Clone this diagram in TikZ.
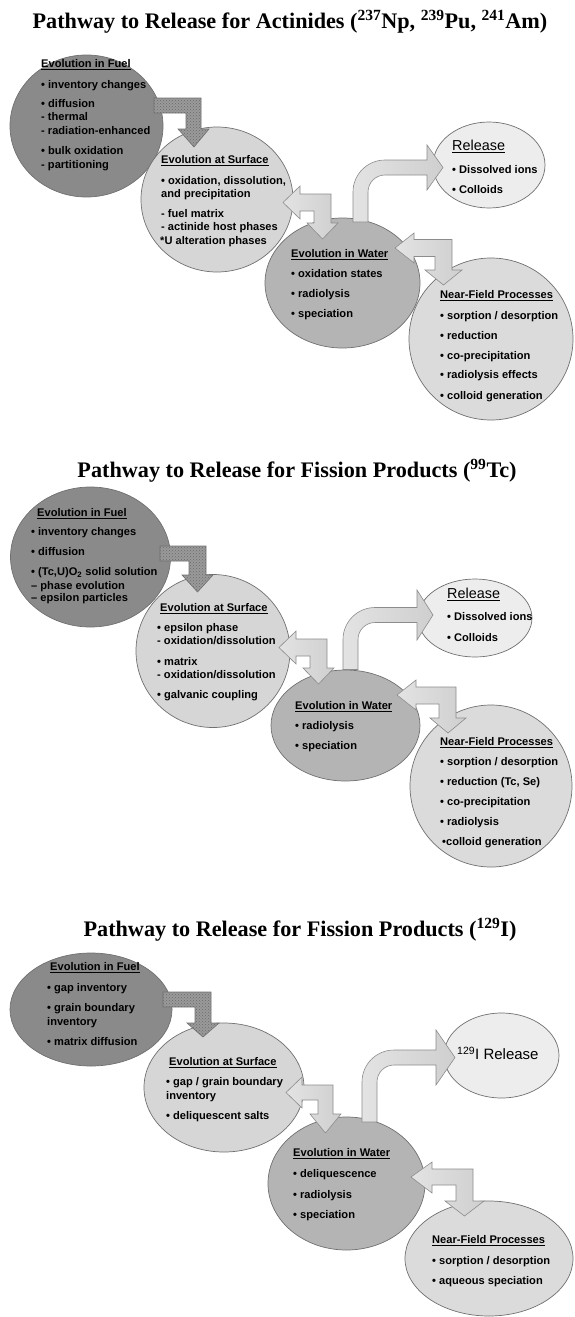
\documentclass[tikz,border=0pt]{standalone}
\usepackage{fontspec}
\setmainfont{Liberation Sans}
\newfontfamily\titlefont{Liberation Serif}
\usetikzlibrary{shapes.geometric,patterns}
\definecolor{fuelc}{HTML}{8A8A8A}
\definecolor{surfc}{HTML}{D6D6D6}
\definecolor{waterc}{HTML}{B4B4B4}
\definecolor{relc}{HTML}{EDEDED}
\definecolor{nearc}{HTML}{DBDBDB}
\definecolor{edgec}{HTML}{707070}
\definecolor{darrc}{HTML}{9A9A9A}
\definecolor{dpat}{HTML}{6A6A6A}
\definecolor{larra}{HTML}{E3E3E3}
\definecolor{larrb}{HTML}{CFCFCF}
\definecolor{larre}{HTML}{8C8C8C}
\newcounter{lnc}
\newcommand\tline[3]{\stepcounter{lnc}\node[txt] (t\thelnc) at (#1,#2) {#3};}
\newcommand\headln[3]{\stepcounter{lnc}\node[txt] (t\thelnc) at (#1,#2) {\underline{#3}};}
\begin{document}
\begin{tikzpicture}[x=1pt,y=-1pt,
  ell/.style={ellipse, draw=edgec, line width=0.7pt, inner sep=0pt},
  txt/.style={anchor=mid west, inner sep=0pt, font=\fontsize{11.1}{13}\selectfont\bfseries},
  bigtxt/.style={anchor=mid west, inner sep=0pt, font=\fontsize{14.4}{16}\selectfont},
  ttl/.style={anchor=base, inner sep=0pt, font=\fontsize{22.2}{26}\selectfont\titlefont\bfseries},
  darr/.style={draw=edgec, line width=0.6pt, preaction={fill=darrc}, pattern=crosshatch dots, pattern color=dpat},
  larr/.style={draw=larre, line width=0.6pt, left color=larra, right color=larrb}]
\useasboundingbox (0,0) rectangle (575,1317);

% ---------------- Panel 1 ----------------
\node[ttl] (title1) at (290,28) {Pathway to Release for Actinides (\textsuperscript{237}Np, \textsuperscript{239}Pu, \textsuperscript{241}Am)};
\node[ell, fill=fuelc,  minimum width=153pt, minimum height=142pt] (fuel1)  at (86.5,126) {};
\node[ell, fill=surfc,  minimum width=152pt, minimum height=145pt] (surf1)  at (217,199.5) {};
\node[ell, fill=waterc, minimum width=155pt, minimum height=130pt] (water1) at (342.5,283) {};
\node[ell, fill=relc,   minimum width=112pt, minimum height=86pt]  (rel1)   at (489,165) {};
\node[ell, fill=nearc,  minimum width=164pt, minimum height=162pt] (near1)  at (491,339) {};

\path[darr] (154,98) -- (201,98) -- (201,129) -- (209,129) -- (194,147) -- (178,129) -- (186,129) -- (186,113) -- (154,113) -- cycle;
\path[larr] (283,202.5) -- (300,186) -- (300,194) -- (331,194) -- (331,223) -- (338,223) -- (322.5,239) -- (307,223) -- (314,223) -- (314,211) -- (300,211) -- (300,219) -- cycle;
\path[larr] (353,222) -- (353,192) .. controls (353,174.3) and (367.3,160) .. (385,160) -- (427,160) -- (427,145) -- (443,167.5) -- (427,190) -- (427,175) -- (385,175) .. controls (375.6,175) and (368,182.6) .. (368,192) -- (368,222) -- cycle;
\path[larr] (395,248) -- (414,233) -- (414,239.5) -- (452,239.5) -- (452,270) -- (462,270) -- (443.5,285) -- (425,270) -- (435,270) -- (435,256.5) -- (414,256.5) -- (414,263) -- cycle;

\headln{41}{65}{Evolution in Fuel}
\tline{41}{86}{• inventory changes}
\tline{41}{105}{• diffusion}
\tline{41}{118}{- thermal}
\tline{41}{132}{- radiation-enhanced}
\tline{41}{152}{• bulk oxidation}
\tline{41}{166}{- partitioning}

\headln{161}{161}{Evolution at Surface}
\tline{161}{182}{• oxidation, dissolution,}
\tline{161}{195}{and precipitation}
\tline{161}{215}{- fuel matrix}
\tline{161}{228}{- actinide host phases}
\tline{160}{242}{*U alteration phases}

\headln{291}{255}{Evolution in Water}
\tline{291}{275}{• oxidation states}
\tline{291}{295}{• radiolysis}
\tline{291}{315}{• speciation}

\node[bigtxt] (relh1) at (452,148) {\underline{Release}};
\tline{452}{171}{• Dissolved ions}
\tline{452}{191}{• Colloids}

\headln{440}{296}{Near-Field Processes}
\tline{440}{317}{• sorption / desorption}
\tline{440}{337}{• reduction}
\tline{440}{357}{• co-precipitation}
\tline{440}{376}{• radiolysis effects}
\tline{440}{397}{• colloid generation}

% ---------------- Panel 2 ----------------
\node[ttl] (title2) at (297,477) {Pathway to Release for Fission Products (\textsuperscript{99}Tc)};
\node[ell, fill=fuelc,  minimum width=160pt, minimum height=140pt] (fuel2)  at (90.5,557) {};
\node[ell, fill=surfc,  minimum width=154pt, minimum height=153pt] (surf2)  at (213,651) {};
\node[ell, fill=waterc, minimum width=149pt, minimum height=111pt] (water2) at (345.5,725.5) {};
\node[ell, fill=relc,   minimum width=114pt, minimum height=78pt]  (rel2)   at (475,618) {};
\node[ell, fill=nearc,  minimum width=162pt, minimum height=162pt] (near2)  at (491,786) {};

\path[darr] (160,546) -- (206,546) -- (206,575) -- (213,575) -- (197.5,592) -- (182,575) -- (189,575) -- (189,561) -- (160,561) -- cycle;
\path[larr] (279,647.5) -- (296,631) -- (296,639) -- (327,639) -- (327,668) -- (334,668) -- (318.5,684) -- (303,668) -- (310,668) -- (310,656) -- (296,656) -- (296,664) -- cycle;
\path[larr] (343,669.5) -- (343,639.5) .. controls (343,621.8) and (357.3,607.5) .. (375,607.5) -- (417,607.5) -- (417,590) -- (433,615) -- (417,640) -- (417,622.5) -- (375,622.5) .. controls (365.6,622.5) and (358,630.1) .. (358,639.5) -- (358,669.5) -- cycle;
\path[larr] (397,695) -- (416,680) -- (416,687) -- (456,687) -- (456,718) -- (466,718) -- (448,733) -- (430,718) -- (439,718) -- (439,704) -- (416,704) -- (416,710) -- cycle;

\headln{37}{514}{Evolution in Fuel}
\tline{31}{533}{• inventory changes}
\tline{31}{553}{• diffusion}
\tline{31}{573}{• (Tc,U)O\textsubscript{2} solid solution}
\tline{31}{587}{– phase evolution}
\tline{31}{599}{– epsilon particles}

\headln{160}{609}{Evolution at Surface}
\tline{157}{629}{• epsilon phase}
\tline{157}{642}{- oxidation/dissolution}
\tline{157}{663}{• matrix}
\tline{157}{676}{- oxidation/dissolution}
\tline{157}{696}{• galvanic coupling}

\headln{295}{707}{Evolution in Water}
\tline{295}{727}{• radiolysis}
\tline{295}{747}{• speciation}

\node[bigtxt] (relh2) at (447,596) {\underline{Release}};
\tline{447}{618}{• Dissolved ions}
\tline{447}{639}{• Colloids}

\headln{440}{743}{Near-Field Processes}
\tline{440}{763}{• sorption / desorption}
\tline{440}{783}{• reduction (Tc, Se)}
\tline{440}{803}{• co-precipitation}
\tline{440}{823}{• radiolysis}
\tline{442}{843}{•colloid generation}

% ---------------- Panel 3 ----------------
\node[ttl] (title3) at (300,936) {Pathway to Release for Fission Products (\textsuperscript{129}I)};
\node[ell, fill=fuelc,  minimum width=162pt, minimum height=113pt] (fuel3)  at (91,1009.5) {};
\node[ell, fill=surfc,  minimum width=160pt, minimum height=129pt] (surf3)  at (224,1087.5) {};
\node[ell, fill=waterc, minimum width=157pt, minimum height=133pt] (water3) at (346.5,1183.5) {};
\node[ell, fill=relc,   minimum width=115pt, minimum height=85pt]  (rel3)   at (501.5,1055.5) {};
\node[ell, fill=nearc,  minimum width=168pt, minimum height=115pt] (near3)  at (489,1258.5) {};

\path[darr] (163,992) -- (211,992) -- (211,1023) -- (219,1023) -- (203,1037) -- (187,1023) -- (195,1023) -- (195,1007) -- (163,1007) -- cycle;
\path[larr] (286,1092.5) -- (302,1077) -- (302,1085) -- (333,1085) -- (333,1114) -- (341,1114) -- (325.5,1133) -- (310,1114) -- (318,1114) -- (318,1100) -- (302,1100) -- (302,1108) -- cycle;
\path[larr] (362,1122) -- (362,1082) .. controls (362,1064.3) and (376.3,1050) .. (394,1050) -- (436,1050) -- (436,1030) -- (455,1057.5) -- (436,1085) -- (436,1065) -- (394,1065) .. controls (384.6,1065) and (377,1072.6) .. (377,1082) -- (377,1122) -- cycle;
\path[larr] (411,1177) -- (432,1162) -- (432,1169) -- (473,1169) -- (473,1201) -- (484,1201) -- (464.5,1216) -- (445,1201) -- (456,1201) -- (456,1185) -- (432,1185) -- (432,1193) -- cycle;

\headln{50}{968}{Evolution in Fuel}
\tline{47}{989}{• gap inventory}
\tline{47}{1009}{• grain boundary}
\tline{47}{1023}{inventory}
\tline{47}{1043}{• matrix diffusion}

\headln{169}{1063}{Evolution at Surface}
\tline{166}{1083}{• gap / grain boundary}
\tline{166}{1097}{inventory}
\tline{166}{1117}{• deliquescent salts}

\headln{293}{1154}{Evolution in Water}
\tline{293}{1175}{• deliquescence}
\tline{293}{1196}{• radiolysis}
\tline{293}{1216}{• speciation}

\node[bigtxt, font=\fontsize{15}{17}\selectfont] (relh3) at (457,1057) {\textsuperscript{129}I Release};

\headln{432}{1241}{Near-Field Processes}
\tline{432}{1262}{• sorption / desorption}
\tline{432}{1282}{• aqueous speciation}
\end{tikzpicture}
\end{document}
